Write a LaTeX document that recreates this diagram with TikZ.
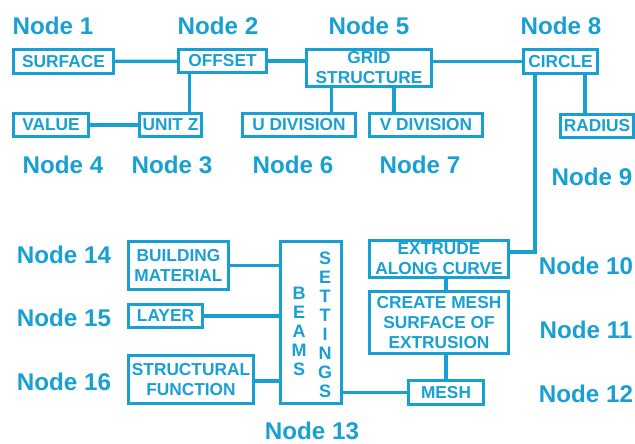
\documentclass[tikz,border=0pt]{standalone}
\usepackage{fontspec}
\setmainfont{Liberation Sans}
\usetikzlibrary{positioning}

\definecolor{blue1}{RGB}{24,160,212}
\tikzstyle{box} = [draw=blue1, line width=2.3pt, text=blue1, align=center, inner sep=0pt, font=\fontsize{12.3}{14.2}\selectfont\bfseries]
\tikzstyle{nodetag} = [text=blue1, inner sep=0pt, font=\fontsize{17.2}{20}\selectfont\bfseries]
\tikzstyle{link} = [draw=blue1, line width=2.3pt]

\begin{document}
\begin{tikzpicture}[x=0.025cm, y=-0.025cm]
    \useasboundingbox (0,0) rectangle (635,443);

    % top row
    \node[box, minimum width=2.5cm, minimum height=0.6cm] (surface) at (63.5,61.5) {SURFACE};
    \node[box, minimum width=2.2cm, minimum height=0.575cm] (offset) at (222.5,61) {OFFSET};
    \node[box, minimum width=3.125cm, minimum height=0.925cm] (grid) at (369,68) {GRID\\STRUCTURE};
    \node[box, minimum width=1.85cm, minimum height=0.6cm] (circle) at (560.5,61.5) {CIRCLE};

    % second row
    \node[box, minimum width=1.875cm, minimum height=0.575cm] (value) at (51,125) {VALUE};
    \node[box, minimum width=1.55cm, minimum height=0.575cm] (unitz) at (170.5,125) {UNIT Z};
    \node[box, minimum width=2.825cm, minimum height=0.575cm] (udiv) at (299,125) {U DIVISION};
    \node[box, minimum width=2.825cm, minimum height=0.575cm] (vdiv) at (426,125) {V DIVISION};
    \node[box, minimum width=1.825cm, minimum height=0.575cm] (radius) at (597,126) {RADIUS};

    % right column
    \node[box, minimum width=3.475cm, minimum height=0.925cm] (extrude) at (439,259) {EXTRUDE\\ALONG CURVE};
    \node[box, minimum width=3.475cm, minimum height=1.55cm] (createmesh) at (439,322.5) {CREATE MESH\\SURFACE OF\\EXTRUSION};
    \node[box, minimum width=1.875cm, minimum height=0.6cm] (mesh) at (446,392.5) {MESH};

    % beams settings
    \node[box, minimum width=1.525cm, minimum height=4.05cm] (beams) at (311,322.5) {};
    \node[box, draw=none, font=\fontsize{12.8}{13.5}\selectfont\bfseries] (beamsword) at (299,331.5) {B\\E\\A\\M\\S};
    \node[box, draw=none, font=\fontsize{12.8}{13.5}\selectfont\bfseries] (settingsword) at (325,324.5) {S\\E\\T\\T\\I\\N\\G\\S};

    % left column
    \node[box, minimum width=2.5cm, minimum height=1.2cm] (building) at (178.5,265.5) {BUILDING\\MATERIAL};
    \node[box, minimum width=1.85cm, minimum height=0.575cm] (layer) at (165.5,316) {LAYER};
    \node[box, minimum width=3.125cm, minimum height=1.2cm] (structural) at (191,379.5) {STRUCTURAL\\FUNCTION};

    % connectors
    \coordinate (oz) at ([xshift=0.325cm]offset.south west);
    \coordinate (gu) at ([xshift=0.675cm]grid.south west);
    \coordinate (gv) at ([xshift=2.225cm]grid.south west);
    \coordinate (cr) at ([xshift=1.575cm]circle.south west);
    \coordinate (ce) at ([xshift=0.325cm]circle.south west);
    \path[link] (surface) -- (offset);
    \path[link] (offset.east) -- (offset.east -| grid.west);
    \path[link] (circle.west) -- (circle.west -| grid.east);
    \path[link] (value) -- (unitz);
    \path[link] (oz) -- (oz |- unitz.north);
    \path[link] (gu) -- (gu |- udiv.north);
    \path[link] (gv) -- (gv |- vdiv.north);
    \path[link] (cr) -- (cr |- radius.north);
    \path[link] (ce) |- ([yshift=0.175cm]extrude.east);
    \path[link] (mesh.north |- extrude.south) -- (mesh.north |- createmesh.north);
    \path[link] (mesh.north |- createmesh.south) -- (mesh.north);
    \path[link] (mesh.west) -- (mesh.west -| beams.east);
    \path[link] (building.east) -- (building.east -| beams.west);
    \path[link] (layer.east) -- (layer.east -| beams.west);
    \path[link] ([yshift=-0.04cm]structural.east) -- ([yshift=-0.04cm]structural.east -| beams.west);

    % node numbers
    \node[nodetag] (n1) at (53,26) {Node 1};
    \node[nodetag] (n2) at (218,26) {Node 2};
    \node[nodetag] (n5) at (369,26) {Node 5};
    \node[nodetag] (n8) at (561,26) {Node 8};
    \node[nodetag] (n4) at (63,165) {Node 4};
    \node[nodetag] (n3) at (172,165) {Node 3};
    \node[nodetag] (n6) at (293,165) {Node 6};
    \node[nodetag] (n7) at (420,165) {Node 7};
    \node[nodetag] (n9) at (592,177) {Node 9};
    \node[nodetag] (n14) at (64,255) {Node 14};
    \node[nodetag] (n15) at (64,318) {Node 15};
    \node[nodetag] (n16) at (64,382) {Node 16};
    \node[nodetag] (n13) at (312,431) {Node 13};
    \node[nodetag] (n10) at (586,266) {Node 10};
    \node[nodetag] (n11) at (586,330) {Node 11};
    \node[nodetag] (n12) at (586,394) {Node 12};
\end{tikzpicture}
\end{document}
